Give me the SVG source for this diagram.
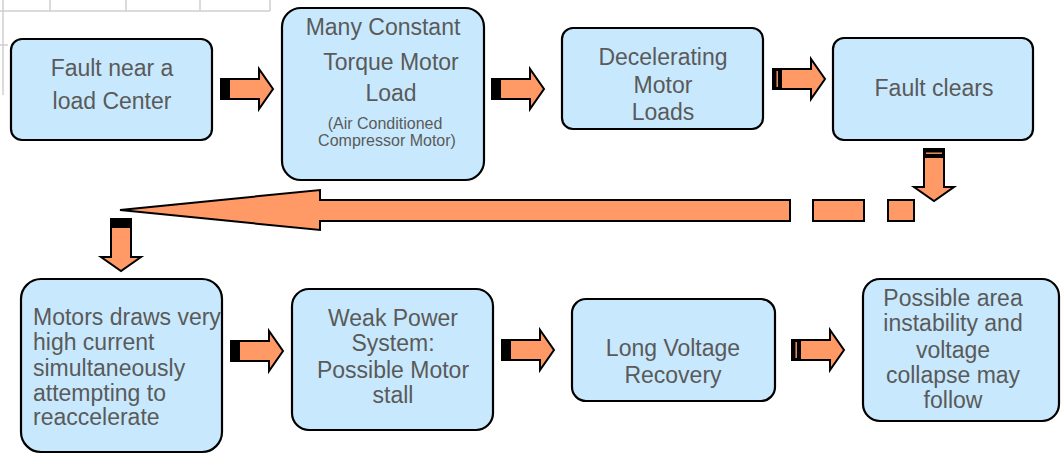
<svg xmlns="http://www.w3.org/2000/svg" xmlns:xlink="http://www.w3.org/1999/xlink" width="1062" height="458" viewBox="0 0 1062 458">
<style>
.box{fill:#C8E9FD;stroke:#000;stroke-width:2.2}
.t{font-family:"Liberation Sans",Arial,sans-serif;font-size:23px;fill:#5a5a5a;text-anchor:middle}
.tl{text-anchor:start}
.s{font-size:16px}
.ar{fill:#FF9966;stroke:#000;stroke-width:2;stroke-linejoin:miter}
.grid{stroke:#d0d0d0;stroke-width:1.5;fill:none}
</style>
<defs>
<g id="harrow">
<polygon class="ar" points="0,-10 38,-10 38,-20 52,0 38,20 38,10 0,10"/>
<rect x="0" y="-10" width="9" height="20" fill="#000"/>
</g>
<g id="harrow2">
<polygon class="ar" points="0,-10 38,-10 38,-20 52,0 38,20 38,10 0,10"/>
<rect x="0" y="-10" width="9" height="20" fill="#000"/>
<rect x="3.5" y="-8" width="1.4" height="16" fill="#FF9966"/>
</g>
</defs>
<rect width="1062" height="458" fill="#fff"/>
<g id="background-grid">
<path class="grid" d="M50,0V11M126,0V11M200,0V11M270,0V11M0,11H270M3,0V95M0,45H8"/>
</g>
<g id="connectors">
<use xlink:href="#harrow" transform="translate(221,89)"/>
<use xlink:href="#harrow" transform="translate(492,89)"/>
<use xlink:href="#harrow2" transform="translate(773,79)"/>
<use xlink:href="#harrow2" transform="translate(934,149) rotate(90)"/>
<polygon class="ar" points="120,210 320,190 320,200 790,200 790,221 320,221 320,230"/>
<rect class="ar" x="813" y="200" width="51" height="21"/>
<rect class="ar" x="888" y="200" width="26" height="21"/>
<use xlink:href="#harrow" transform="translate(121,219) rotate(90)"/>
<use xlink:href="#harrow" transform="translate(231,351)"/>
<use xlink:href="#harrow" transform="translate(502,350)"/>
<use xlink:href="#harrow2" transform="translate(792,350)"/>
</g>
<g id="n1">
<rect class="box" x="11" y="39" width="201" height="101" rx="11"/>
<text class="t" x="112" y="76">Fault near a</text>
<text class="t" x="112" y="109">load Center</text>
</g>
<g id="n2">
<rect class="box" x="282" y="8" width="202" height="172" rx="19"/>
<text class="t" x="383" y="35">Many Constant</text>
<text class="t" x="391" y="70">Torque Motor</text>
<text class="t" x="391" y="101">Load</text>
<text class="t s" x="385" y="129">(Air Conditioned</text>
<text class="t s" x="387" y="146">Compressor Motor)</text>
</g>
<g id="n3">
<rect class="box" x="562" y="28" width="201" height="101" rx="11"/>
<text class="t" x="663" y="65">Decelerating</text>
<text class="t" x="663" y="93">Motor</text>
<text class="t" x="663" y="120">Loads</text>
</g>
<g id="n4">
<rect class="box" x="833" y="38" width="200" height="102" rx="11"/>
<text class="t" x="934" y="96">Fault clears</text>
</g>
<g id="n5">
<rect class="box" x="21" y="279" width="201" height="173" rx="20"/>
<text class="t tl" x="33" y="325">Motors draws very</text>
<text class="t tl" x="33" y="350">high current</text>
<text class="t tl" x="33" y="376">simultaneously</text>
<text class="t tl" x="33" y="401">attempting to</text>
<text class="t tl" x="33" y="425">reaccelerate</text>
</g>
<g id="n6">
<rect class="box" x="292" y="289" width="201" height="141" rx="17"/>
<text class="t" x="393" y="326">Weak Power</text>
<text class="t" x="393" y="351">System:</text>
<text class="t" x="393" y="378">Possible Motor</text>
<text class="t" x="393" y="403">stall</text>
</g>
<g id="n7">
<rect class="box" x="572" y="299" width="203" height="102" rx="14"/>
<text class="t" x="673" y="356">Long Voltage</text>
<text class="t" x="673" y="383">Recovery</text>
</g>
<g id="n8">
<rect class="box" x="863" y="279" width="196" height="142" rx="17"/>
<text class="t" x="953" y="306">Possible area</text>
<text class="t" x="953" y="331">instability and</text>
<text class="t" x="953" y="358">voltage</text>
<text class="t" x="953" y="383">collapse may</text>
<text class="t" x="953" y="408">follow</text>
</g>
</svg>
